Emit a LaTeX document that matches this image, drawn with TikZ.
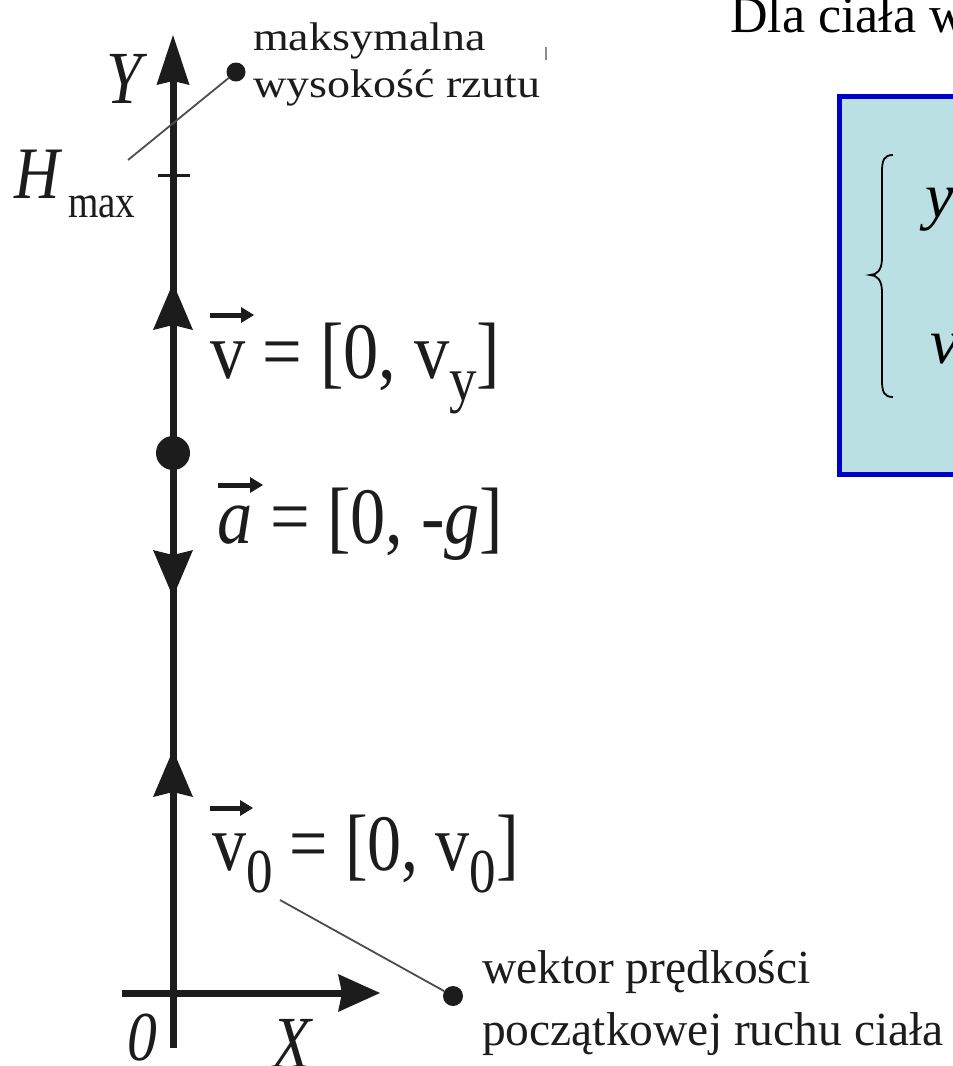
\documentclass[tikz,border=0pt]{standalone}
\usepackage{fontspec}
\setmainfont{Liberation Serif}
\newfontfamily\fnarrow[FakeStretch=0.85]{Liberation Serif}
\newfontfamily\fnarrowb[FakeStretch=0.88]{Liberation Serif}
\newfontfamily\fwide[FakeStretch=1.15]{Liberation Serif}
\usetikzlibrary{arrows.meta}
\definecolor{ink}{RGB}{28,28,28}
\definecolor{boxblue}{RGB}{0,0,204}
\definecolor{boxfill}{RGB}{186,224,228}
\newcommand\fsz[1]{\fontsize{#1}{#1}\selectfont}
\newcommand\lowsub[1]{\raisebox{-0.28em}{\scalebox{0.78}{#1}}}
\begin{document}
\begin{tikzpicture}[x=1pt,y=-1pt,
  lab/.style={inner sep=0pt, anchor=base west, text=ink},
  axisline/.style={line width=7pt, draw=ink},
  midtip/.style={-{Stealth[length=47pt,width=40pt,inset=5pt,line width=0pt]}},
  vecarrow/.style={line width=5pt, draw=ink, -{Triangle[length=13pt,width=16pt,line width=0pt]}},
  dot/.style={circle, fill=ink, inner sep=0pt},
  leader/.style={line width=1.8pt, draw=black!70},
  eqbox/.style={draw=boxblue, fill=boxfill, line width=5pt, anchor=north west, minimum width=300pt, minimum height=378pt, inner sep=0pt}
]
\useasboundingbox (0,0) rectangle (953,1066);
\clip (0,0) rectangle (953,1066);

% right part: title and equation box
\node[lab, text=black] (title) at (730,32) {\fsz{52}Dla ciała w};
\node[eqbox] (box) at (837,94) {};
\draw[line width=1.8pt, black] (893,155) .. controls (884,155) and (882,160) .. (882,172)
  -- (882,258) .. controls (882,270) and (877,275) .. (870,275)
  .. controls (877,275) and (882,280) .. (882,292)
  -- (882,380) .. controls (882,392) and (884,397) .. (893,397);
\node[lab, text=black] (eqy) at (925,217) {\fsz{64}\itshape y};
\node[lab, text=black] (eqv) at (930,363) {\fsz{64}\itshape v};

% axes
\coordinate (ytip) at (173,35);
\coordinate (ybot) at (173,1048);
\coordinate (xleft) at (122,993);
\coordinate (xtip) at (380,993);
\draw[axisline, -{Stealth[length=50pt,width=33pt,inset=4pt,line width=0pt]}] (ybot) -- (ytip);
\draw[axisline, -{Stealth[length=42pt,width=38pt,inset=4pt,line width=0pt]}] (xleft) -- (xtip);
\draw[line width=3pt, ink] (158,175) -- (190,175);

% arrows on the axis
\draw[axisline, midtip] (173,345) -- (173,283);
\draw[axisline, midtip] (173,540) -- (173,597);
\draw[axisline, midtip] (173,815) -- (173,750);
\node[dot, minimum size=34pt] (body) at (173,453) {};

% axis labels
\node[lab] (Ylab) at (106,103) {\fsz{75}\fnarrow\itshape Y};
\node[lab] (Hlab) at (14,198) {\fsz{74}\fnarrow\itshape H};
\node[lab] (maxlab) at (68,217) {\fsz{46}\fnarrow max};
\node[lab] (Olab) at (127,1060) {\fsz{70}\fnarrow\itshape 0};
\node[lab] (Xlab) at (272,1068) {\fsz{75}\fnarrow\itshape X};

% formulas
\node[lab] (fv) at (210,378) {\fsz{80}\fnarrowb v = [0, v\lowsub{y}]};
\draw[vecarrow] (210,315) -- (254,315);
\node[lab] (fa) at (217,543) {\fsz{80}\fnarrowb\textit{a} = [0, -\textit{g}]};
\draw[vecarrow] (218,485) -- (263,485);
\node[lab] (fv0) at (212,870) {\fsz{80}\fnarrow v\lowsub{0} = [0, v\lowsub{0}]};
\draw[vecarrow] (210,808) -- (253,808);

% annotations
\node[dot, minimum size=19pt] (topdot) at (236,72) {};
\node[lab] (maks1) at (253,50) {\fsz{40}\fwide maksymalna};
\node[lab] (maks2) at (253,97) {\fsz{40}\fwide wysokość rzutu};
\coordinate (hmaxend) at (128,160);
\draw[leader] (hmaxend) -- (topdot);
\draw[line width=1.2pt, black!45] (546,47) -- (546,60);

\node[dot, minimum size=20pt] (botdot) at (453,996) {};
\node[lab] (wek1) at (482,983) {\fsz{47.5}wektor prędkości};
\node[lab] (wek2) at (482,1045) {\fsz{47.5}początkowej ruchu ciała};
\coordinate (v0end) at (280,900);
\draw[leader] (v0end) -- (botdot);
\end{tikzpicture}
\end{document}
